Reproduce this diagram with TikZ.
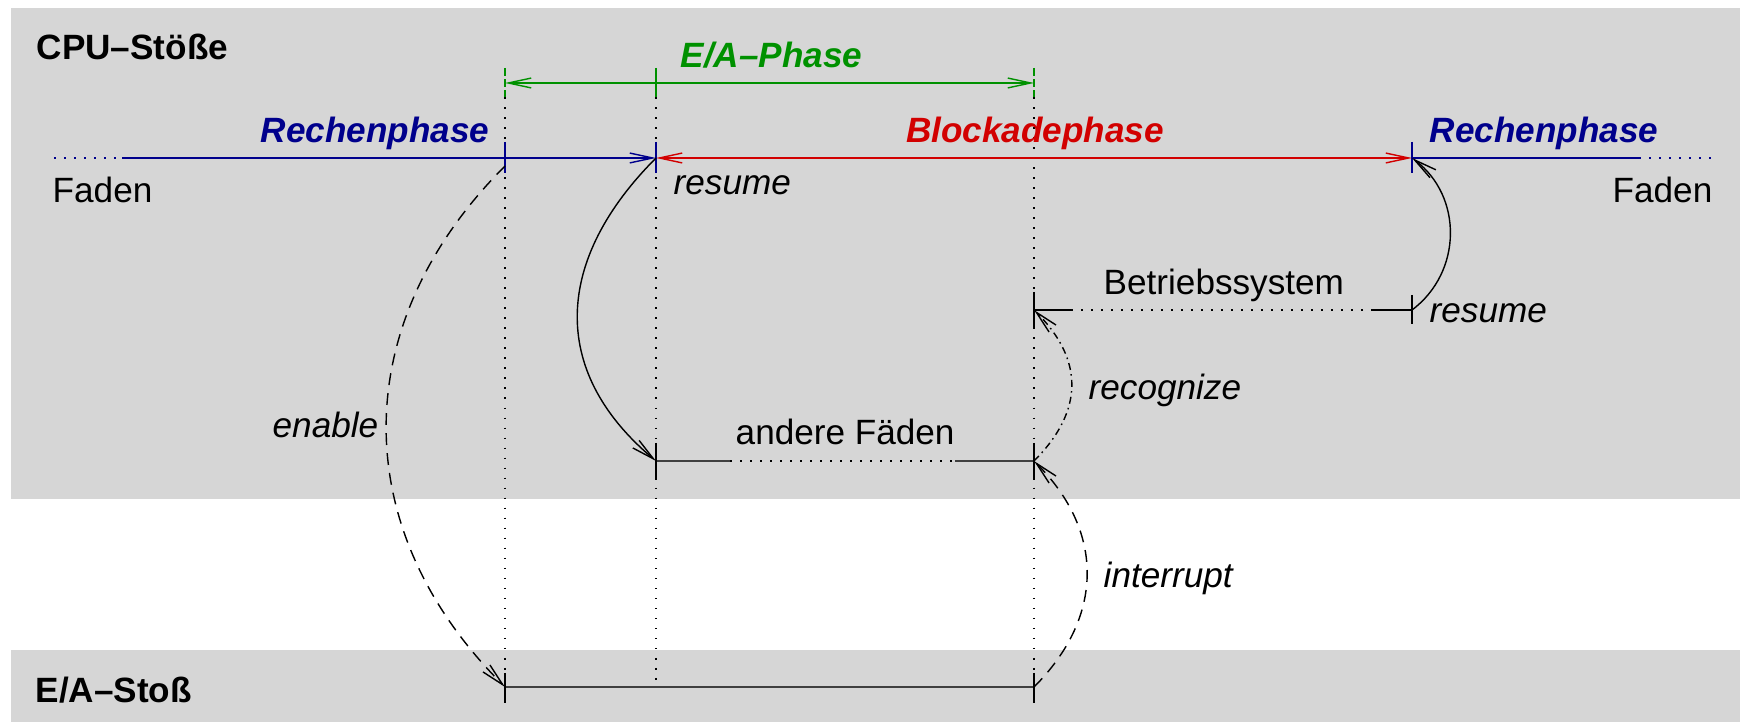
\documentclass[tikz,border=0pt]{standalone}
\usepackage{fontspec}
\setmainfont{Liberation Sans}
\usetikzlibrary{arrows.meta}
\definecolor{bandgray}{RGB}{214,214,214}
\definecolor{phaseblue}{RGB}{0,0,140}
\definecolor{phasered}{RGB}{210,0,0}
\definecolor{phasegreen}{RGB}{0,145,0}
\begin{document}
\begin{tikzpicture}[x=0.1mm,y=0.1mm,
  fine/.style={line width=0.4pt},
  dotline/.style={line width=0.5pt, dash pattern=on 0.45pt off 2.4pt},
  dashline/.style={line width=0.4pt, dash pattern=on 3.4pt off 2.3pt},
  dotdash/.style={line width=0.4pt, dash pattern=on 2pt off 1.2pt on 0.45pt off 1.2pt},
  barb/.style={-{Straight Barb[length=6.5pt,width=2.8pt]}},
  barbs/.style={{Straight Barb[length=6.5pt,width=2.8pt]}-{Straight Barb[length=6.5pt,width=2.8pt]}},
  strong/.style={line width=0.6pt, black!75},
  lbl/.style={inner sep=0pt}]
\useasboundingbox (0,0) rectangle (1740,-722);
% time marks (x) and rows (y), 1 unit = 1 px of the 1740 wide sheet
\def\xA{505}
\def\xB{656}
\def\xC{1034}
\def\xD{1412}
\def\yG{-83}
\def\yM{-158}
\def\yS{-310}
\def\yF{-461}
\def\yE{-687}
% bands
\fill[bandgray] (11,-8) rectangle (1740,-499);
\fill[bandgray] (11,-650) rectangle (1740,-722);
\coordinate (gA) at (\xA,\yG);
\coordinate (gB) at (\xB,\yG);
\coordinate (gC) at (\xC,\yG);
\coordinate (mL) at (54,\yM);
\coordinate (mL2) at (122,\yM);
\coordinate (mA) at (\xA,\yM);
\coordinate (enA) at (\xA,-166);
\coordinate (mB) at (\xB,\yM);
\coordinate (mD) at (\xD,\yM);
\coordinate (mR2) at (1639,\yM);
\coordinate (mR) at (1715,\yM);
\coordinate (sC) at (\xC,\yS);
\coordinate (sC2) at (1072,\yS);
\coordinate (sD2) at (1373,\yS);
\coordinate (sD) at (\xD,\yS);
\coordinate (fB) at (\xB,\yF);
\coordinate (fB2) at (730,\yF);
\coordinate (fC2) at (955,\yF);
\coordinate (fC) at (\xC,\yF);
\coordinate (eA) at (\xA,\yE);
\coordinate (eB) at (\xB,\yE);
\coordinate (eC) at (\xC,\yE);
% dotted guides
\foreach \p in {A,B,C}
  \draw[dotline] (g\p) ++(0,-14) -- (e\p);
% E/A phase
\draw[phasegreen, fine, dash pattern=on 2.3pt off 0.9pt] (gA) ++(0,15) -- ++(0,-29);
\draw[phasegreen, fine, dash pattern=on 2.3pt off 0.9pt] (gC) ++(0,15) -- ++(0,-29);
\draw[phasegreen, fine] (gB) ++(0,15) -- ++(0,-29);
\draw[phasegreen, fine, barbs] (gA) -- (gC);
% thread line
\draw[phaseblue, dotline] (mL) -- (mL2);
\draw[phaseblue, fine, barb] (mL2) -- (mB);
\draw[phasered, fine, barbs] (mB) -- (mD);
\draw[phaseblue, fine] (mD) -- (mR2);
\draw[phaseblue, dotline] (mR2) -- (mR);
\foreach \p in {mA,mB,mD}
  \draw[phaseblue, fine] (\p) ++(0,16) -- ++(0,-31);
% operating system
\draw[fine] (sD) -- (sD2);
\draw[dotline] (sD2) -- (sC2);
\draw[fine] (sC2) -- (sC);
\draw[fine] (sC) ++(0,18) -- ++(0,-36);
\draw[fine] (sD) ++(0,15) -- ++(0,-29);
% other threads
\draw[strong] (fB) -- (fB2);
\draw[dotline] (fB2) -- (fC2);
\draw[strong] (fC2) -- (fC);
\draw[fine] (fB) ++(0,18) -- ++(0,-37);
\draw[fine] (fC) ++(0,18) -- ++(0,-37);
% I/O burst
\draw[strong] (eA) -- (eC);
\draw[fine] (eA) ++(0,14) -- ++(0,-30);
\draw[fine] (eC) ++(0,14) -- ++(0,-30);
% transitions
\draw[dashline, barb] (enA) to[out=225,in=135,looseness=1.1] (eA);
\draw[fine, barb] (mB) to[out=225,in=140,looseness=1.2] (fB);
\draw[fine, barb] (sD) to[out=37,in=-37,looseness=1.07] (mD);
\draw[dotdash, barb] (fC) to[out=45,in=-45,looseness=1.2] (sC);
\draw[dashline, barb] (eC) to[out=45,in=-45,looseness=1.13] (fC);
% labels
\node[lbl, anchor=base west, font=\bfseries] (cpu) at (36,-60) {CPU--Stöße};
\node[lbl, anchor=base west, font=\bfseries\itshape, text=phasegreen] (eaph) at (680,-68) {E/A--Phase};
\node[lbl, anchor=base east, font=\bfseries\itshape, text=phaseblue] (rech1) at (490,-143) {Rechenphase};
\node[lbl, anchor=base, font=\bfseries\itshape, text=phasered] (block) at (1035,-143) {Blockadephase};
\node[lbl, anchor=base west, font=\bfseries\itshape, text=phaseblue] (rech2) at (1429,-143) {Rechenphase};
\node[lbl, anchor=base west] (fadenL) at (52,-203) {Faden};
\node[lbl, anchor=base east] (fadenR) at (1713,-203) {Faden};
\node[lbl, anchor=base west, font=\itshape] (res1) at (673,-195) {resume};
\node[lbl, anchor=base west] (bs) at (1103,-295) {Betriebssystem};
\node[lbl, anchor=base west, font=\itshape] (res2) at (1429,-323) {resume};
\node[lbl, anchor=base west, font=\itshape] (recog) at (1088,-400) {recognize};
\node[lbl, anchor=base west, font=\itshape] (enab) at (272,-438) {enable};
\node[lbl, anchor=base west] (andere) at (735,-445) {andere Fäden};
\node[lbl, anchor=base west, font=\itshape] (intr) at (1103,-588) {interrupt};
\node[lbl, anchor=base west, font=\bfseries] (eas) at (35,-703) {E/A--Stoß};
\end{tikzpicture}
\end{document}
